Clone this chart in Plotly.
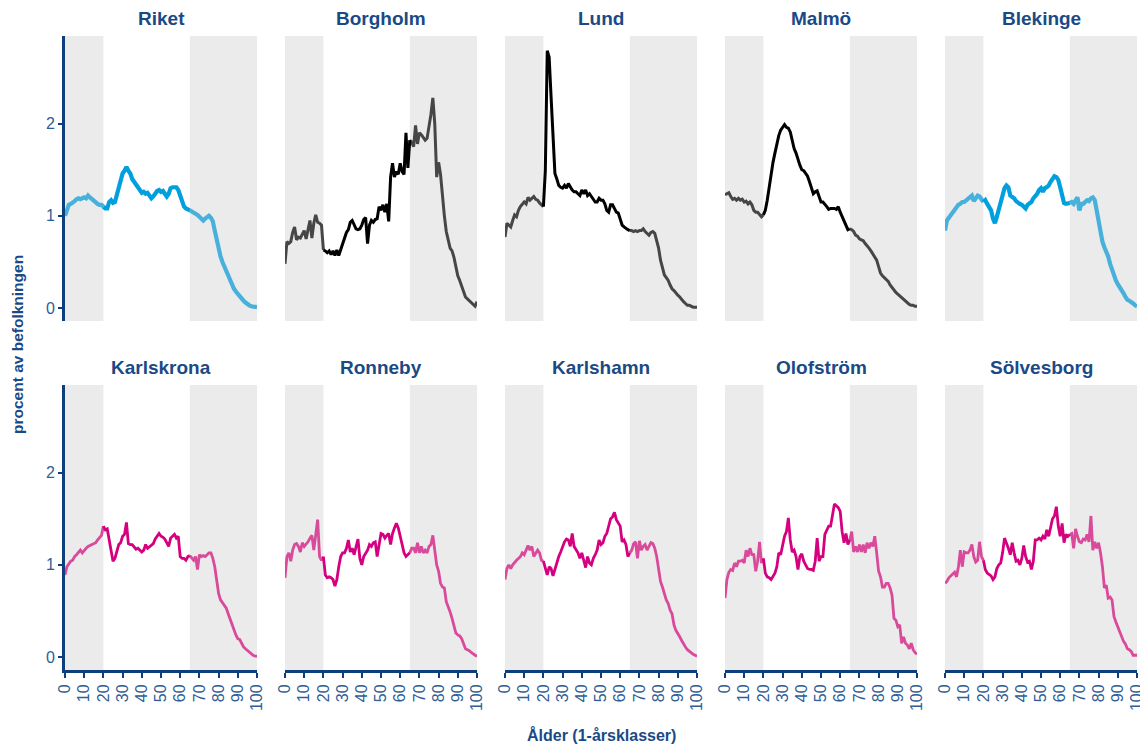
import plotly.graph_objects as go

# andel av befolkningen (%) per 1-årsklass, 0-100 år
ages = list(range(101))

regions = ["Riket", "Borgholm", "Lund", "Malmö", "Blekinge",
           "Karlskrona", "Ronneby", "Karlshamn", "Olofström", "Sölvesborg"]

riket = [
    1.00, 1.08, 1.12, 1.13, 1.14, 1.16, 1.18, 1.19, 1.18, 1.19,
    1.20, 1.19, 1.22, 1.20, 1.18, 1.16, 1.15, 1.13, 1.12, 1.12,
    1.10, 1.08, 1.08, 1.15, 1.17, 1.14, 1.15, 1.24, 1.33, 1.40,
    1.46, 1.49, 1.53, 1.49, 1.46, 1.40, 1.37, 1.35, 1.31, 1.28,
    1.25, 1.26, 1.24, 1.25, 1.21, 1.19, 1.21, 1.24, 1.27, 1.28,
    1.26, 1.27, 1.24, 1.21, 1.24, 1.30, 1.31, 1.31, 1.31, 1.28,
    1.21, 1.14, 1.10, 1.08, 1.07, 1.06, 1.05, 1.04, 1.02, 1.01,
    0.99, 0.97, 0.95, 0.97, 0.99, 1.00, 0.98, 0.94, 0.84, 0.74,
    0.65, 0.56, 0.50, 0.45, 0.39, 0.34, 0.29, 0.25, 0.21, 0.18,
    0.15, 0.12, 0.10, 0.08, 0.06, 0.04, 0.03, 0.02, 0.02, 0.01, 0.01,
]
borgholm = [
    0.48, 0.72, 0.70, 0.72, 0.82, 0.88, 0.74, 0.77, 0.76, 0.80,
    0.84, 0.75, 0.84, 0.95, 0.76, 0.92, 1.01, 0.93, 0.92, 0.90,
    0.63, 0.62, 0.60, 0.62, 0.58, 0.62, 0.57, 0.63, 0.57, 0.63,
    0.68, 0.76, 0.82, 0.85, 0.93, 0.95, 0.90, 0.86, 0.85, 0.86,
    0.90, 0.96, 0.98, 0.70, 0.90, 0.95, 0.93, 0.96, 0.97, 1.10,
    1.06, 1.12, 1.04, 1.13, 0.94, 1.42, 1.57, 1.42, 1.48, 1.45,
    1.57, 1.48, 1.45, 1.90, 1.52, 1.82, 1.80, 1.75, 1.98, 1.78,
    1.90, 1.88, 1.85, 1.82, 1.84, 1.95, 2.10, 2.28, 2.00, 1.42,
    1.58, 1.45, 1.20, 1.00, 0.83, 0.72, 0.65, 0.62, 0.55, 0.45,
    0.35, 0.30, 0.24, 0.16, 0.12, 0.10, 0.08, 0.05, 0.03, 0.02, 0.07,
]
lund = [
    0.77, 0.92, 0.90, 0.88, 0.95, 1.01, 0.99, 1.06, 1.10, 1.13,
    1.15, 1.13, 1.20, 1.17, 1.19, 1.21, 1.18, 1.17, 1.14, 1.12,
    1.10, 1.49, 2.79, 2.72, 2.29, 1.82, 1.46, 1.40, 1.33, 1.31,
    1.30, 1.33, 1.30, 1.35, 1.31, 1.28, 1.26, 1.26, 1.24, 1.22,
    1.28, 1.24, 1.28, 1.22, 1.24, 1.21, 1.19, 1.15, 1.15, 1.19,
    1.17, 1.17, 1.13, 1.06, 1.04, 1.12, 1.12, 1.08, 1.04, 1.03,
    0.95, 0.90, 0.88, 0.86, 0.85, 0.84, 0.84, 0.83, 0.84, 0.83,
    0.84, 0.84, 0.86, 0.83, 0.81, 0.79, 0.82, 0.83, 0.81, 0.74,
    0.65, 0.52, 0.43, 0.36, 0.33, 0.30, 0.25, 0.21, 0.19, 0.16,
    0.14, 0.12, 0.09, 0.07, 0.05, 0.03, 0.03, 0.02, 0.01, 0.01, 0.01,
]
malmo = [
    1.23, 1.24, 1.25, 1.21, 1.18, 1.19, 1.17, 1.19, 1.17, 1.18,
    1.15, 1.16, 1.13, 1.15, 1.12, 1.06, 1.04, 1.04, 1.01, 0.99,
    1.01, 1.06, 1.17, 1.31, 1.46, 1.58, 1.68, 1.78, 1.87, 1.93,
    1.96, 1.99, 1.96, 1.95, 1.91, 1.82, 1.73, 1.68, 1.60, 1.55,
    1.50, 1.49, 1.46, 1.43, 1.37, 1.30, 1.24, 1.26, 1.27, 1.21,
    1.15, 1.15, 1.13, 1.10, 1.07, 1.08, 1.08, 1.08, 1.07, 1.10,
    1.04, 0.99, 0.95, 0.90, 0.85, 0.86, 0.85, 0.83, 0.79, 0.78,
    0.75, 0.74, 0.73, 0.70, 0.68, 0.65, 0.62, 0.59, 0.56, 0.52,
    0.45, 0.38, 0.35, 0.33, 0.31, 0.29, 0.25, 0.22, 0.19, 0.17,
    0.15, 0.13, 0.11, 0.09, 0.08, 0.06, 0.04, 0.03, 0.03, 0.02, 0.02,
]
blekinge = [
    0.84, 0.95, 0.98, 1.01, 1.04, 1.06, 1.10, 1.12, 1.13, 1.15,
    1.15, 1.17, 1.19, 1.21, 1.22, 1.16, 1.19, 1.22, 1.21, 1.17,
    1.15, 1.17, 1.13, 1.10, 1.06, 0.97, 0.92, 0.99, 1.08, 1.17,
    1.24, 1.30, 1.33, 1.31, 1.22, 1.21, 1.19, 1.16, 1.14, 1.13,
    1.12, 1.10, 1.08, 1.12, 1.13, 1.15, 1.19, 1.21, 1.24, 1.28,
    1.30, 1.26, 1.30, 1.31, 1.33, 1.37, 1.40, 1.43, 1.42, 1.39,
    1.31, 1.21, 1.14, 1.13, 1.13, 1.14, 1.15, 1.13, 1.17, 1.20,
    1.06, 1.13, 1.13, 1.15, 1.17, 1.16, 1.19, 1.20, 1.17, 1.06,
    0.95, 0.81, 0.72, 0.66, 0.61, 0.56, 0.48, 0.41, 0.35, 0.30,
    0.26, 0.23, 0.19, 0.16, 0.12, 0.09, 0.08, 0.07, 0.05, 0.03, 0.02,
]
karlskrona = [
    0.89, 0.98, 1.01, 1.04, 1.05, 1.09, 1.11, 1.13, 1.16, 1.13,
    1.16, 1.18, 1.20, 1.21, 1.22, 1.23, 1.24, 1.27, 1.29, 1.32,
    1.42, 1.38, 1.39, 1.27, 1.13, 1.04, 1.07, 1.14, 1.22, 1.24,
    1.31, 1.33, 1.46, 1.23, 1.22, 1.22, 1.20, 1.17, 1.18, 1.16,
    1.14, 1.16, 1.22, 1.18, 1.20, 1.22, 1.23, 1.28, 1.31, 1.34,
    1.31, 1.30, 1.28, 1.24, 1.20, 1.29, 1.31, 1.33, 1.29, 1.31,
    1.09, 1.07, 1.07, 1.05, 1.09, 1.10, 1.08, 1.05, 1.09, 0.95,
    1.11, 1.09, 1.10, 1.09, 1.11, 1.13, 1.13, 1.07, 0.98, 0.84,
    0.69, 0.62, 0.59, 0.57, 0.53, 0.47, 0.41, 0.34, 0.29, 0.24,
    0.20, 0.19, 0.15, 0.11, 0.09, 0.07, 0.06, 0.04, 0.02, 0.01, 0.01,
]
ronneby = [
    0.86, 1.09, 1.13, 1.04, 1.16, 1.22, 1.23, 1.20, 1.14, 1.24,
    1.20, 1.22, 1.25, 1.29, 1.32, 1.16, 1.31, 1.49, 1.09, 1.05,
    1.09, 0.89, 0.86, 0.87, 0.86, 0.84, 0.77, 0.84, 0.98, 1.09,
    1.13, 1.13, 1.18, 1.27, 1.14, 1.18, 1.11, 1.20, 1.28, 1.07,
    1.00, 1.09, 1.13, 1.16, 1.22, 1.20, 1.24, 1.25, 1.09, 1.22,
    1.34, 1.33, 1.29, 1.32, 1.34, 1.22, 1.34, 1.40, 1.45, 1.40,
    1.31, 1.20, 1.13, 1.09, 1.11, 1.13, 1.18, 1.18, 1.13, 1.24,
    1.13, 1.20, 1.13, 1.16, 1.13, 1.20, 1.22, 1.32, 1.16, 1.00,
    0.93, 0.80, 0.76, 0.75, 0.60, 0.55, 0.49, 0.42, 0.33, 0.26,
    0.24, 0.23, 0.20, 0.15, 0.09, 0.08, 0.07, 0.05, 0.03, 0.02, 0.01,
]
karlshamn = [
    0.84, 0.96, 1.00, 0.96, 1.00, 1.03, 1.05, 1.07, 1.09, 1.13,
    1.11, 1.16, 1.21, 1.16, 1.20, 1.09, 1.13, 1.16, 1.13, 1.05,
    1.04, 0.95, 0.89, 0.98, 0.96, 0.88, 0.96, 1.04, 1.09, 1.14,
    1.20, 1.25, 1.28, 1.27, 1.20, 1.34, 1.20, 1.16, 1.13, 1.07,
    1.13, 1.05, 0.97, 1.09, 1.02, 1.00, 1.07, 1.11, 1.16, 1.27,
    1.22, 1.24, 1.31, 1.34, 1.42, 1.50, 1.52, 1.57, 1.49, 1.45,
    1.42, 1.25, 1.27, 1.22, 1.09, 1.13, 1.16, 1.23, 1.25, 1.07,
    1.26, 1.16, 1.20, 1.22, 1.16, 1.20, 1.24, 1.23, 1.18, 1.09,
    0.96, 0.82, 0.76, 0.69, 0.62, 0.58, 0.51, 0.47, 0.35, 0.29,
    0.26, 0.22, 0.18, 0.14, 0.11, 0.08, 0.06, 0.04, 0.03, 0.02, 0.01,
]
olofstrom = [
    0.64, 0.84, 0.92, 0.95, 0.94, 1.02, 0.98, 1.04, 1.04, 1.05,
    1.02, 1.16, 1.09, 1.18, 1.11, 1.11, 0.93, 1.04, 1.25, 1.02,
    1.07, 0.91, 0.87, 0.86, 0.84, 0.87, 0.91, 0.98, 1.13, 1.11,
    1.22, 1.31, 1.36, 1.51, 1.27, 1.14, 1.16, 1.09, 0.95, 1.09,
    1.12, 1.04, 1.00, 0.96, 0.95, 0.95, 0.94, 1.04, 1.29, 1.04,
    1.09, 1.09, 1.33, 1.38, 1.42, 1.42, 1.56, 1.66, 1.64, 1.62,
    1.58, 1.36, 1.24, 1.34, 1.22, 1.27, 1.36, 1.14, 1.20, 1.14,
    1.22, 1.14, 1.22, 1.13, 1.24, 1.18, 1.24, 1.20, 1.31, 1.13,
    0.93, 0.87, 0.76, 0.76, 0.80, 0.80, 0.75, 0.67, 0.42, 0.40,
    0.33, 0.35, 0.15, 0.22, 0.15, 0.13, 0.09, 0.15, 0.08, 0.05, 0.03,
]
solvesborg = [
    0.80, 0.82, 0.86, 0.88, 0.91, 0.92, 0.87, 0.98, 1.16, 0.98,
    1.14, 1.13, 1.13, 1.16, 1.22, 1.09, 1.03, 1.05, 1.25, 1.09,
    1.05, 0.95, 0.91, 0.89, 0.88, 0.84, 0.87, 0.96, 1.00, 1.02,
    1.13, 1.29, 1.24, 1.18, 1.11, 1.24, 1.13, 1.04, 1.05, 1.00,
    1.07, 1.21, 1.09, 1.03, 1.04, 0.95, 1.04, 1.27, 1.27, 1.29,
    1.27, 1.31, 1.28, 1.38, 1.31, 1.40, 1.50, 1.53, 1.63, 1.42,
    1.31, 1.45, 1.24, 1.33, 1.31, 1.33, 1.34, 1.18, 1.39, 1.31,
    1.25, 1.24, 1.28, 1.27, 1.33, 1.25, 1.53, 1.16, 1.25, 1.18,
    1.24, 1.13, 0.98, 0.75, 0.78, 0.64, 0.65, 0.62, 0.44, 0.38,
    0.33, 0.26, 0.21, 0.17, 0.14, 0.09, 0.08, 0.06, 0.02, 0.02, 0.02,
]

series = [riket, borgholm, lund, malmo, blekinge,
          karlskrona, ronneby, karlshamn, olofstrom, solvesborg]

# åldersband utanför arbetsför ålder (grå bakgrund)
young_band = (0, 20)
old_band = (65, 100)
x_ticks = list(range(0, 101, 10))
y_ticks = [0, 1, 2]

for s in series:
    assert len(s) == len(ages)

# (färg i arbetsför ålder, färg utanför, linjebredd)
palette = {
    "blue": ("#00a0df", "#47b1dc", 4.2),
    "black": ("#000000", "#464646", 3),
    "pink": ("#d5007f", "#d94a9b", 2.8),
}
panel_style = ["blue", "black", "black", "black", "blue",
               "pink", "pink", "pink", "pink", "pink"]

# sidan har 8 px body-marginal, så figuren ritas 8 px in från fönstrets kant
PAD = 8
W, H = 1148 - PAD, 744 - PAD
FONT = "Liberation Sans, Arial, sans-serif"
DARK = "#0c3f7c"
TITLE = "#1a4a86"
TICKTXT = "#2f5e96"
col_left = [65, 285, 505, 725, 945]
panel_w = 192
row_top = [36, 385]
row_bot = [321, 670]


def px(v):
    # fönsterkoordinat (px från vänster) -> andel av figuren
    return (v - PAD) / W


def py(v):
    # fönsterkoordinat (px uppifrån) -> andel av figuren, nedifrån
    return 1 - (v - PAD) / H


fig = go.Figure()
layout = {}
annotations = []

for i, (name, vals) in enumerate(zip(regions, series)):
    r, c = divmod(i, 5)
    n = "" if i == 0 else str(i + 1)
    xa, ya = "x" + n, "y" + n
    mid, outer, width = palette[panel_style[i]]

    for lo, hi, color in [(young_band[0], young_band[1], outer),
                          (old_band[0], old_band[1], outer),
                          (young_band[1], old_band[0], mid)]:
        fig.add_trace(go.Scatter(
            x=ages[lo:hi + 1], y=vals[lo:hi + 1], mode="lines",
            line=dict(color=color, width=width),
            xaxis=xa, yaxis=ya, showlegend=False, hoverinfo="skip",
        ))

    for lo, hi in (young_band, old_band):
        fig.add_shape(type="rect", xref=xa, yref=ya + " domain",
                      x0=lo, x1=hi, y0=0, y1=1,
                      fillcolor="#ebebeb", line_width=0, layer="below")

    x0 = col_left[c]
    x1 = x0 + panel_w
    bottom = r == 1
    left = c == 0
    layout["xaxis" + n] = dict(
        domain=[px(x0), px(x1)], range=[0, 100], anchor=ya, automargin=False,
        showgrid=False, zeroline=False,
        showline=bottom, linecolor=DARK, linewidth=3,
        ticks="outside" if bottom else "", ticklen=5, tickwidth=1.5, tickcolor=DARK,
        tickvals=x_ticks, showticklabels=bottom, tickangle=-90,
        tickfont=dict(family=FONT, size=16, color=TICKTXT),
    )
    layout["yaxis" + n] = dict(
        domain=[py(row_bot[r]), py(row_top[r])], range=[-0.14, 2.95],
        anchor=xa, automargin=False, showgrid=False, zeroline=False,
        showline=left, linecolor=DARK, linewidth=3,
        ticks="outside" if left else "", ticklen=4, tickwidth=1.5, tickcolor=DARK,
        tickvals=y_ticks, showticklabels=left,
        tickfont=dict(family=FONT, size=16, color=TICKTXT),
    )
    annotations.append(dict(
        text="<b>%s</b>" % name, x=px((x0 + x1) / 2), y=py(row_top[r] - 18),
        xref="paper", yref="paper", showarrow=False, xanchor="center", yanchor="middle",
        font=dict(family=FONT, size=19, color=TITLE),
    ))

annotations.append(dict(
    text="<b>Ålder (1-årsklasser)</b>", x=px(601), y=py(735),
    xref="paper", yref="paper", showarrow=False, xanchor="center", yanchor="middle",
    font=dict(family=FONT, size=16, color=TITLE),
))
annotations.append(dict(
    text="<b>procent av befolkningen</b>", x=px(18), y=py(345), textangle=-90,
    xref="paper", yref="paper", showarrow=False, xanchor="center", yanchor="middle",
    font=dict(family=FONT, size=15.5, color=TITLE),
))

fig.update_layout(
    width=W, height=H,
    margin=dict(l=0, r=0, t=0, b=0),
    paper_bgcolor="white", plot_bgcolor="white",
    annotations=annotations,
    **layout,
)

fig.write_html("out.html")
